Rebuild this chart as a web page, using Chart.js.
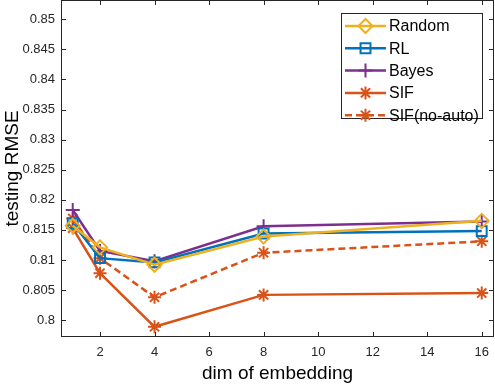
<!DOCTYPE html>
<html>
<head>
<meta charset="utf-8">
<script src="https://cdn.jsdelivr.net/npm/chart.js@4/dist/chart.umd.min.js"></script>
<style>
  html, body { margin: 0; padding: 0; background: #fff; }
  #wrap { width: 495px; height: 386px; position: relative; }
</style>
</head>
<body>
<div id="wrap"><canvas id="grafica"></canvas></div>
<script>
/* Datos */
const dims = [1, 2, 4, 8, 16];
const randomRmse = [0.8157, 0.8121, 0.8092, 0.8139, 0.8165];
const rlRmse = [0.8161, 0.8103, 0.8096, 0.8144, 0.8148];
const bayesRmse = [0.8183, 0.8115, 0.8098, 0.8156, 0.8164];
const sifRmse = [0.8153, 0.8078, 0.7989, 0.8042, 0.8045];
const sifNoAutoRmse = [0.8169, 0.8103, 0.8038, 0.8112, 0.8131];

const xTicks = [2, 4, 6, 8, 10, 12, 14, 16];
const yTicks = [0.8, 0.805, 0.81, 0.815, 0.82, 0.825, 0.83, 0.835, 0.84, 0.845, 0.85];

const FONT = 'Liberation Sans, Arial, sans-serif';
const AXIS = '#262626';

function puntos(ys) {
    return dims.map((x, i) => ({x: x, y: ys[i]}));
}

function serie(label, ys, color, estilo, radio, dash) {
    return {
        label: label,
        data: puntos(ys),
        borderColor: color,
        backgroundColor: 'rgba(0,0,0,0)',
        borderWidth: 2.5,
        borderDash: dash || [],
        pointStyle: estilo,
        pointRadius: radio,
        pointBorderWidth: 2,
        pointBorderColor: color,
        pointBackgroundColor: 'rgba(0,0,0,0)',
        tension: 0
    };
}

const datasets = [
    serie('Random', randomRmse, '#EDB120', 'rectRot', 7),
    serie('RL', rlRmse, '#0072BD', 'rect', 7),
    serie('Bayes', bayesRmse, '#7E2F8E', 'cross', 7),
    serie('SIF', sifRmse, '#D95319', 'star', 6.5),
    serie('SIF(no-auto)', sifNoAutoRmse, '#D95319', 'star', 6.5, [7, 4])
];

// quita el margen que Chart.js reserva para media etiqueta
function sinRelleno(s) {
    s.paddingTop = 0; s.paddingBottom = 0; s.paddingLeft = 0; s.paddingRight = 0;
}

// Caja y marcas hacia dentro, al estilo MATLAB
const cajaEjes = {
    id: 'cajaEjes',
    afterDatasetsDraw(chart) {
        const ctx = chart.ctx;
        const a = chart.chartArea;
        const sx = chart.scales.x, sy = chart.scales.y;
        ctx.save();
        ctx.strokeStyle = AXIS;
        ctx.lineWidth = 1;
        ctx.strokeRect(a.left + 0.5, a.top + 0.5, a.right - a.left - 1, a.bottom - a.top - 1);
        ctx.beginPath();
        xTicks.forEach(v => {
            const px = Math.round(sx.getPixelForValue(v)) + 0.5;
            ctx.moveTo(px, a.bottom); ctx.lineTo(px, a.bottom - 5);
            ctx.moveTo(px, a.top); ctx.lineTo(px, a.top + 5);
        });
        yTicks.forEach(v => {
            const py = Math.round(sy.getPixelForValue(v)) + 0.5;
            ctx.moveTo(a.left, py); ctx.lineTo(a.left + 5, py);
            ctx.moveTo(a.right, py); ctx.lineTo(a.right - 5, py);
        });
        ctx.stroke();
        ctx.restore();
    },
    afterDraw(chart) {
        // Leyenda con recuadro
        const ctx = chart.ctx;
        const bx = 341, by = 13, bw = 141, bh = 105;
        ctx.save();
        ctx.fillStyle = '#fff';
        ctx.fillRect(bx, by, bw, bh);
        ctx.strokeStyle = AXIS;
        ctx.lineWidth = 1;
        ctx.strokeRect(bx + 0.5, by + 0.5, bw, bh);
        ctx.font = '16px ' + FONT;
        ctx.textBaseline = 'middle';
        datasets.forEach((d, i) => {
            const y = by + 13 + i * 22.3;
            ctx.strokeStyle = d.borderColor;
            ctx.lineWidth = 2.5;
            ctx.setLineDash(d.borderDash);
            ctx.beginPath();
            ctx.moveTo(345, y); ctx.lineTo(386, y);
            ctx.stroke();
            ctx.setLineDash([]);
            ctx.lineWidth = 2;
            ctx.fillStyle = 'rgba(0,0,0,0)';
            Chart.helpers.drawPoint(ctx, {
                pointStyle: d.pointStyle,
                radius: d.pointRadius,
                borderWidth: 2
            }, 365.5, y);
            ctx.fillStyle = '#000';
            ctx.fillText(d.label, 389, y + 1);
        });
        ctx.restore();
    }
};

const ctx = document.getElementById('grafica').getContext('2d');
const grafica = new Chart(ctx, {
    type: 'line',
    data: { datasets: datasets },
    options: {
        responsive: true,
        maintainAspectRatio: false,
        animation: false,
        layout: { autoPadding: false, padding: { top: 0, right: 1, left: 0, bottom: 0 } },
        plugins: {
            legend: { display: false },
            tooltip: { enabled: false }
        },
        scales: {
            x: {
                type: 'linear',
                min: 0.57,
                max: 16.45,
                afterBuildTicks: s => { s.ticks = xTicks.map(v => ({value: v})); },
                afterFit: s => { s.height = 49; sinRelleno(s); },
                grid: { display: false, drawTicks: false },
                border: { display: false },
                ticks: {
                    padding: 8,
                    color: AXIS,
                    font: { family: FONT, size: 13 },
                    maxRotation: 0,
                    autoSkip: false
                },
                title: {
                    display: true,
                    text: 'dim of embedding',
                    color: '#000',
                    font: { family: FONT, size: 19 },
                    padding: { top: 0, bottom: 1 }
                }
            },
            y: {
                min: 0.7972,
                max: 0.8532,
                afterBuildTicks: s => { s.ticks = yTicks.map(v => ({value: v})); },
                afterFit: s => { s.width = 61; sinRelleno(s); },
                grid: { display: false, drawTicks: false },
                border: { display: false },
                ticks: {
                    padding: 6,
                    color: AXIS,
                    font: { family: FONT, size: 13 },
                    autoSkip: false,
                    callback: v => String(parseFloat(v.toFixed(3)))
                },
                title: {
                    display: true,
                    text: 'testing RMSE',
                    color: '#000',
                    font: { family: FONT, size: 19 },
                    padding: { top: 1, bottom: 0 }
                }
            }
        }
    },
    plugins: [cajaEjes]
});
</script>
</body>
</html>
